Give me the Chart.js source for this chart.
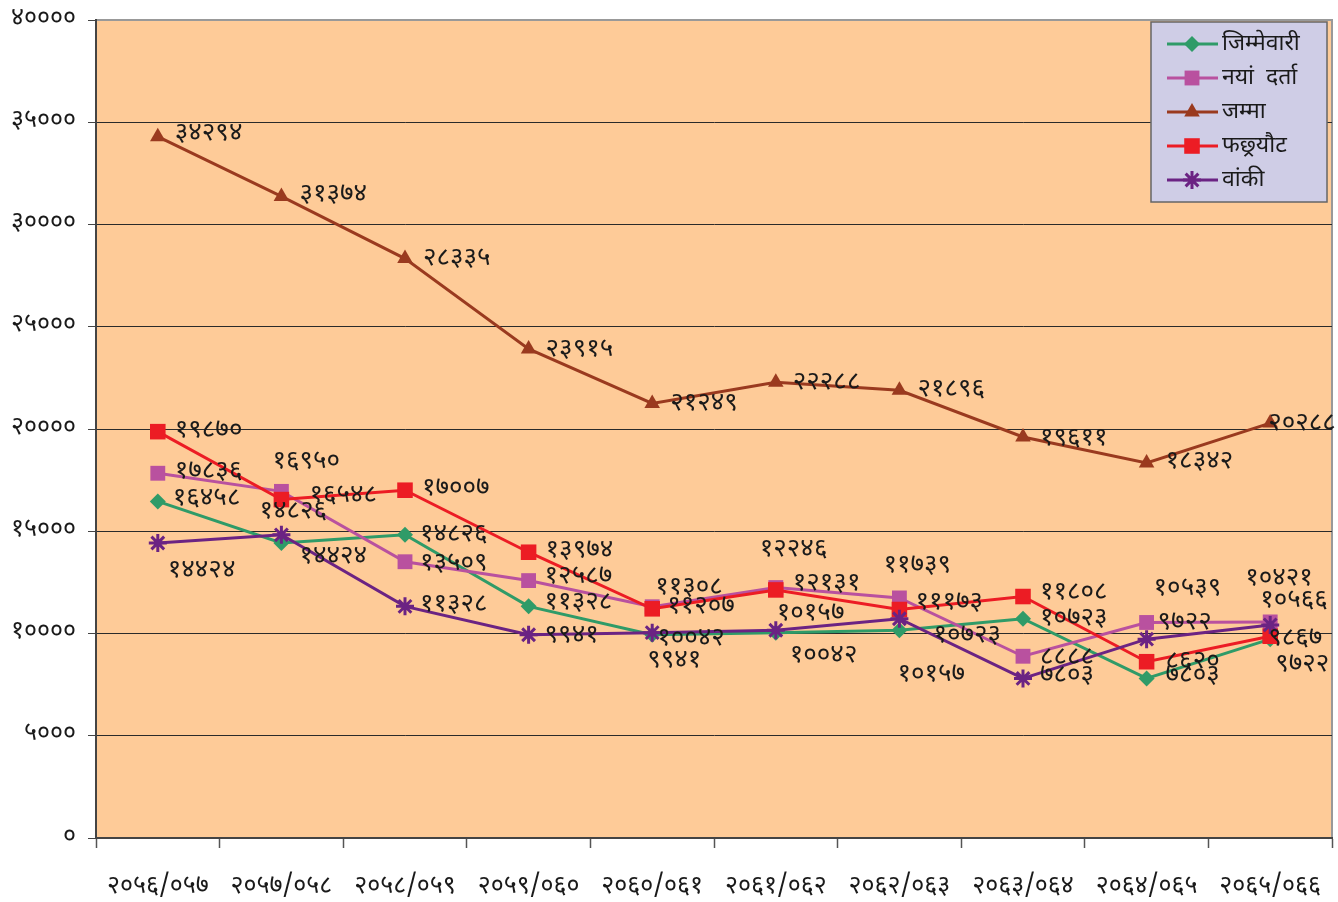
<!DOCTYPE html>
<html>
<head>
<meta charset="utf-8">
<script src="https://cdn.jsdelivr.net/npm/chart.js@4.4.1/dist/chart.umd.min.js"></script>
<style>
    html, body { margin: 0; padding: 0; background: #fff; }
    #wrap { width: 1338px; height: 902px; position: relative; }
</style>
</head>
<body>
<div id="wrap"><canvas id="chart"></canvas></div>
<script>
// आर्थिक वर्ष
const years = ['२०५६/०५७', '२०५७/०५८', '२०५८/०५९', '२०५९/०६०', '२०६०/०६१', '२०६१/०६२', '२०६२/०६३', '२०६३/०६४', '२०६४/०६५', '२०६५/०६६'];

// मुद्दा संख्या
const jimmewari = [16458, 14424, 14826, 11328, 9941, 10042, 10157, 10723, 7803, 9722];
const nayaDarta = [17836, 16950, 13509, 12587, 11308, 12246, 11739, 8888, 10539, 10566];
const jamma = [34294, 31374, 28335, 23915, 21249, 22288, 21896, 19611, 18342, 20288];
const faxyaut = [19870, 16548, 17007, 13974, 11207, 12131, 11173, 11808, 8620, 9867];
const baki = [14424, 14826, 11328, 9941, 10042, 10157, 10723, 7803, 9722, 10421];

const seriesNames = ['जिम्मेवारी', 'नयां  दर्ता', 'जम्मा', 'फछ्र्यौट', 'वांकी'];

const yMin = 0;
const yMax = 40000;
const yStep = 5000;

// label placement relative to each point (dx, dy)
const labelOffsets = [
    [[15, -5], [18, 11], [15, -3], [16, -6], [-5, 23], [14, 20], [-2, 42], [17, -3], [19, -5], [5, 23]],
    [[17, -4], [-9, -32], [15, -1], [16, -6], [3, -22], [-16, -40], [-16, -35], [17, -1], [7, -36], [-10, -24]],
    [[17, -6], [18, -4], [18, -2], [17, -2], [18, -2], [17, -2], [18, -3], [17, -1], [19, -4], [-2, -2]],
    [[17, -4], [28, -6], [17, -4], [17, -4], [15, -5], [17, -9], [16, -9], [17, -6], [19, -3], [-2, 0]],
    [[10, 25], [-22, -26], [15, -4], [16, -2], [5, 3], [1, -19], [34, 14], [17, -5], [11, -19], [-25, -49]],
];

const FONT = '"Noto Sans Devanagari", "Noto Sans", "DejaVu Sans", sans-serif';
const DEV = '०१२३४५६७८९';
const toDev = (n) => String(n).replace(/[0-9]/g, (d) => DEV[+d]);

const styles = [
    { color: '#2f9b68', point: 'rectRot', radius: 8 },
    { color: '#b9519f', point: 'rect', radius: 10.5 },
    { color: '#9a3a1f', point: 'triangle', radius: 9 },
    { color: '#ec1c24', point: 'rect', radius: 11 },
    { color: '#6b2383', point: 'star', radius: 9 },
];

const seriesData = [jimmewari, nayaDarta, jamma, faxyaut, baki];

const datasets = seriesData.map((data, i) => ({
    label: seriesNames[i],
    data,
    borderColor: styles[i].color,
    backgroundColor: styles[i].color,
    pointBackgroundColor: styles[i].color,
    pointBorderColor: styles[i].color,
    pointStyle: styles[i].point,
    pointRadius: styles[i].radius,
    pointBorderWidth: styles[i].point === 'star' ? 3 : 0,
    borderWidth: 3,
    tension: 0,
    fill: false,
    clip: false,
    order: 5 - i,
}));

const plotBg = {
    id: 'plotBg',
    beforeDraw(chart) {
        const { ctx, chartArea: a } = chart;
        ctx.save();
        ctx.fillStyle = '#fecb98';
        ctx.fillRect(a.left, a.top, a.right - a.left, a.bottom - a.top);
        ctx.strokeStyle = '#999';
        ctx.lineWidth = 2;
        ctx.strokeRect(a.left, a.top, a.right - a.left, a.bottom - a.top);
        ctx.restore();
    },
};

const valueLabels = {
    id: 'valueLabels',
    afterDatasetsDraw(chart) {
        const { ctx } = chart;
        ctx.save();
        ctx.font = `26px ${FONT}`;
        ctx.fillStyle = '#1a1a1a';
        ctx.textAlign = 'left';
        ctx.textBaseline = 'middle';
        chart.data.datasets.forEach((ds, i) => {
            const meta = chart.getDatasetMeta(i);
            meta.data.forEach((pt, j) => {
                const [dx, dy] = labelOffsets[i][j];
                // devanagari glyphs sit high in the em box, nudge down a bit
                ctx.fillText(toDev(ds.data[j]), pt.x + dx, pt.y + dy + 4);
            });
        });
        ctx.restore();
    },
};

const boxLegend = {
    id: 'boxLegend',
    afterDraw(chart) {
        const { ctx, chartArea: a } = chart;
        const bx = a.right - 181;
        const by = a.top + 2;
        const bw = 176;
        const bh = 180;
        ctx.save();
        ctx.fillStyle = '#cfcde6';
        ctx.fillRect(bx, by, bw, bh);
        ctx.strokeStyle = '#666';
        ctx.lineWidth = 1.5;
        ctx.strokeRect(bx, by, bw, bh);
        chart.data.datasets.forEach((ds, i) => {
            const y = by + 22 + i * 34;
            ctx.strokeStyle = ds.borderColor;
            ctx.fillStyle = ds.borderColor;
            ctx.lineWidth = 3;
            ctx.beginPath();
            ctx.moveTo(bx + 16, y);
            ctx.lineTo(bx + 67, y);
            ctx.stroke();
            Chart.helpers.drawPoint(ctx, {
                pointStyle: ds.pointStyle,
                radius: ds.pointRadius,
                rotation: 0,
                borderWidth: ds.pointBorderWidth,
            }, bx + 41, y);
            ctx.fillStyle = '#1a1a1a';
            ctx.font = `23px ${FONT}`;
            ctx.textAlign = 'left';
            ctx.textBaseline = 'middle';
            ctx.fillText(ds.label, bx + 71, y + 2);
        });
        ctx.restore();
    },
};

new Chart(document.getElementById('chart'), {
    type: 'line',
    data: { labels: years, datasets },
    plugins: [plotBg, valueLabels, boxLegend],
    options: {
        responsive: true,
        maintainAspectRatio: false,
        animation: false,
        layout: { autoPadding: false, padding: { top: 20, right: 6, left: 0, bottom: 0 } },
        plugins: {
            legend: { display: false },
            tooltip: { enabled: false },
        },
        scales: {
            x: {
                type: 'category',
                offset: true,
                grid: {
                    offset: true,
                    drawOnChartArea: false,
                    tickLength: 10,
                    tickColor: '#555',
                    tickWidth: 1.5,
                },
                border: { color: '#444', width: 2 },
                ticks: {
                    color: '#1a1a1a',
                    font: { family: FONT, size: 25 },
                    padding: 25,
                    maxRotation: 0,
                    autoSkip: false,
                },
                afterFit: (s) => {
                    s.height = 64;
                    s.paddingLeft = 0;
                    s.paddingRight = 0;
                },
            },
            y: {
                min: yMin,
                max: yMax,
                grid: {
                    color: (c) => (c.tick && c.tick.value === yMax ? '#999' : '#2a2a2a'),
                    lineWidth: 1,
                    tickLength: 8,
                    tickColor: '#444',
                },
                border: { color: '#444', width: 2 },
                ticks: {
                    stepSize: yStep,
                    color: '#1a1a1a',
                    font: { family: FONT, size: 25 },
                    padding: 12,
                    callback: (v) => toDev(v),
                },
                afterFit: (s) => {
                    s.width = 96;
                    s.paddingTop = 0;
                    s.paddingBottom = 0;
                },
            },
        },
    },
});
</script>
</body>
</html>
